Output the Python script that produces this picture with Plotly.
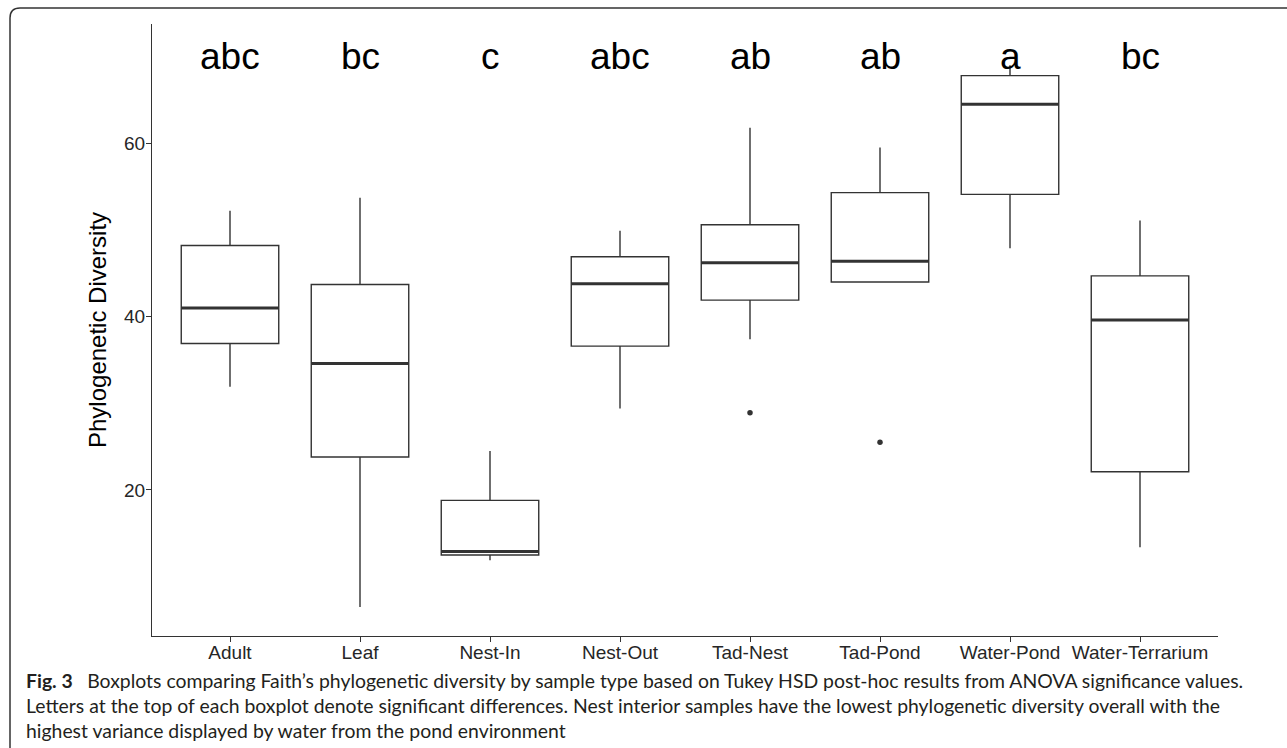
import plotly.graph_objects as go

# ---- data ----
categories = ["Adult", "Leaf", "Nest-In", "Nest-Out", "Tad-Nest", "Tad-Pond", "Water-Pond", "Water-Terrarium"]
lower_whisker = [31.9, 6.5, 11.9, 29.4, 37.4, 44.0, 47.9, 13.4]
q1 = [36.9, 23.8, 12.5, 36.6, 41.9, 44.0, 54.1, 22.1]
median = [41.0, 34.6, 12.9, 43.8, 46.2, 46.4, 64.5, 39.6]
q3 = [48.2, 43.7, 18.8, 46.9, 50.6, 54.3, 67.8, 44.7]
upper_whisker = [52.2, 53.7, 24.5, 49.9, 61.8, 59.5, 69.0, 51.1]
outlier_cat = ["Tad-Nest", "Tad-Pond"]
outlier_val = [28.9, 25.5]
letters = ["abc", "bc", "c", "abc", "ab", "ab", "a", "bc"]
letter_y = 70
y_ticks = [20, 40, 60]

caption_lines = [
    "<b>Fig. 3</b>\u2003Boxplots comparing Faith\u2019s phylogenetic diversity by sample type based on Tukey HSD post-hoc results from ANOVA significance values.",
    "Letters at the top of each boxplot denote significant differences. Nest interior samples have the lowest phylogenetic diversity overall with the",
    "highest variance displayed by water from the pond environment",
]

# ---- layout constants ----
W, H = 1287, 748
L, R, T, B = 152, 1218, 24, 636
BOX_W = 0.75
LINE = "#333333"
AX_FONT = "Liberation Sans, Arial, sans-serif"
CAP_FONT = "Lato, Open Sans, sans-serif"

def px_x(px):
    return (px - L) / (R - L)

def px_y(py):
    return (B - py) / (B - T)

pos = list(range(len(categories)))

fig = go.Figure()

fig.add_trace(go.Box(
    x=pos, q1=q1, median=median, q3=q3,
    lowerfence=lower_whisker, upperfence=upper_whisker,
    width=BOX_W, whiskerwidth=0,
    fillcolor="white", line=dict(color=LINE, width=1.4),
    boxpoints=False, showlegend=False, hoverinfo="skip",
))

# thicker median lines (ggplot fatten)
for i, m in zip(pos, median):
    fig.add_trace(go.Scatter(
        x=[i - BOX_W / 2, i + BOX_W / 2], y=[m, m], mode="lines",
        line=dict(color=LINE, width=3), showlegend=False, hoverinfo="skip",
    ))

# outliers
fig.add_trace(go.Scatter(
    x=[categories.index(c) for c in outlier_cat], y=outlier_val, mode="markers",
    marker=dict(color=LINE, size=5.5), showlegend=False, hoverinfo="skip",
))

# significance letters
for i, t in zip(pos, letters):
    fig.add_annotation(x=i, y=letter_y, xref="x", yref="y", text=t, showarrow=False,
                       font=dict(family=AX_FONT, size=37, color="black"),
                       xanchor="center", yanchor="middle")

# y-axis title
fig.add_annotation(x=px_x(97), y=px_y(330), xref="paper", yref="paper",
                   text="Phylogenetic Diversity", textangle=-90, showarrow=False,
                   font=dict(family=AX_FONT, size=24, color="black"),
                   xanchor="center", yanchor="middle")

# caption
for k, line in enumerate(caption_lines):
    fig.add_annotation(x=px_x(24), y=px_y(680 + 25.5 * k), xref="paper", yref="paper",
                       text=line, showarrow=False, align="left",
                       font=dict(family=CAP_FONT, size=19.4, color="#231f20"),
                       xanchor="left", yanchor="middle")

# frame with rounded top-left corner
x0, y0, rr = 10, 8, 10
path = (f"M {px_x(x0)} {px_y(H + 20)} L {px_x(x0)} {px_y(y0 + rr)} "
        f"Q {px_x(x0)} {px_y(y0)} {px_x(x0 + rr)} {px_y(y0)} L {px_x(W + 20)} {px_y(y0)}")
fig.add_shape(type="path", path=path, xref="paper", yref="paper",
              line=dict(color="#333333", width=1.5), layer="above")

fig.update_xaxes(
    range=[-0.6, len(categories) - 0.4],
    tickmode="array", tickvals=pos, ticktext=categories,
    showline=True, linecolor="#333333", linewidth=1.3,
    ticks="outside", ticklen=5, tickcolor="#333333", tickwidth=1.1,
    showgrid=False, zeroline=False, ticklabelstandoff=-6,
    tickfont=dict(family=AX_FONT, size=19, color="#262626"),
)
fig.update_yaxes(
    range=[3.15, 73.76],
    tickmode="array", tickvals=y_ticks,
    showline=True, linecolor="#333333", linewidth=1.3,
    ticks="outside", ticklen=5, tickcolor="#333333", tickwidth=1.1,
    showgrid=False, zeroline=False, ticklabelstandoff=-3,
    tickfont=dict(family=AX_FONT, size=19, color="#262626"),
)

fig.update_layout(
    width=W, height=H,
    margin=dict(l=L, r=W - R, t=T, b=H - B, autoexpand=False),
    paper_bgcolor="white", plot_bgcolor="white",
    showlegend=False,
)

fig.write_html("out.html")
